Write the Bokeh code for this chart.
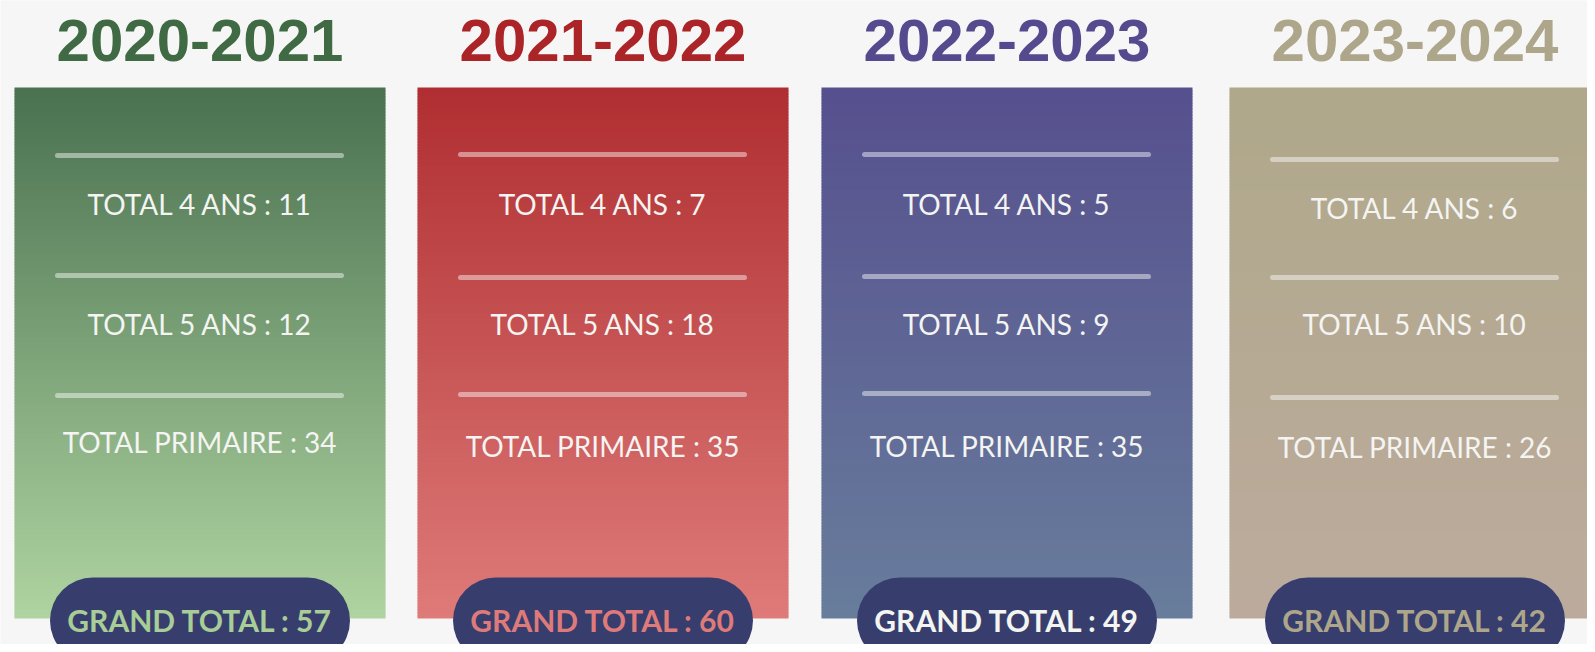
import numpy as np
from bokeh.plotting import figure
from bokeh.models import Range1d, ColumnDataSource
from bokeh.core.properties import value
from bokeh.embed import file_html
from bokeh.resources import INLINE

# ---- data ----
seasons = ["2020-2021", "2021-2022", "2022-2023", "2023-2024"]
total_4_ans = [11, 7, 5, 6]
total_5_ans = [12, 18, 9, 10]
total_primaire = [34, 35, 35, 26]
grand_total = [57, 60, 49, 42]

# ---- styles / layout ----
title_colors = ["#3f6a43", "#ab2428", "#554a8e", "#aea68b"]
grad_top = ["#4a7150", "#b02e31", "#56508e", "#afa88a"]
grad_bot = ["#afd4a1", "#de7b79", "#687d9c", "#bcab9d"]
pill_text_colors = ["#a8cd97", "#de7a79", "#f4f4f0", "#aea68b"]
pill_color = "#373e6d"
bg = "#f6f6f6"

card_left = [14, 417, 821, 1229]
card_w = 371
card_top = 87
card_bot = 618
line_y = [[155, 275, 395], [154, 277, 394], [154, 276, 393], [159, 277, 397]]
text_y = [[203, 323, 441], [203, 323, 445], [203, 323, 445], [207, 323, 446]]

W, H = 1587, 644
p = figure(width=W, height=H, output_backend="svg", toolbar_location=None,
           x_range=Range1d(0, W), y_range=Range1d(H, 0),
           min_border=0, background_fill_color=bg, border_fill_color=bg,
           outline_line_color=None)
p.axis.visible = False
p.grid.visible = False

step = 3
for i, s in enumerate(seasons):
    l = card_left[i]
    r = l + card_w
    cx = l + card_w / 2
    # gradient card
    tops = np.arange(card_top, card_bot, step)
    bots = np.minimum(tops + step + 1, card_bot)
    c0 = np.array([int(grad_top[i][k:k + 2], 16) for k in (1, 3, 5)])
    c1 = np.array([int(grad_bot[i][k:k + 2], 16) for k in (1, 3, 5)])
    t = (tops + step / 2 - card_top) / (card_bot - card_top)
    cols = ["#%02x%02x%02x" % tuple(np.round(c0 + (c1 - c0) * tt).astype(int)) for tt in t]
    src = ColumnDataSource(dict(left=[l] * len(tops), right=[r] * len(tops),
                                top=tops, bottom=bots, color=cols))
    p.quad(left="left", right="right", top="top", bottom="bottom", fill_color="color",
           line_color=None, source=src)

    # title
    p.text(x=[cx], y=[40], text=[s], text_color=title_colors[i],
           text_font=value("Liberation Sans"), text_font_style="bold",
           text_font_size="60px", text_align="center", text_baseline="middle")

    # divider lines
    for ly in line_y[i]:
        p.line(x=[l + 43, r - 44], y=[ly, ly], line_color="white", line_alpha=0.45,
               line_width=5, line_cap="round")

    labels = ["TOTAL 4 ANS : %d" % total_4_ans[i],
              "TOTAL 5 ANS : %d" % total_5_ans[i],
              "TOTAL PRIMAIRE : %d" % total_primaire[i]]
    p.text(x=[cx] * 3, y=text_y[i], text=labels, text_color="#f4f4f2",
           text_font=value("Lato"), text_font_size="28px", text_font_style="normal",
           text_align="center", text_baseline="middle")

    # pill
    p.quad(left=[cx - 150], right=[cx + 150], top=[577], bottom=[663],
           fill_color=pill_color, line_color=None, border_radius=43)
    p.text(x=[cx], y=[619], text=["GRAND TOTAL : %d" % grand_total[i]],
           text_color=pill_text_colors[i], text_font=value("Lato"),
           text_font_style="bold", text_font_size="30px",
           text_align="center", text_baseline="middle")

open("out.html", "w").write(file_html(p, INLINE))
